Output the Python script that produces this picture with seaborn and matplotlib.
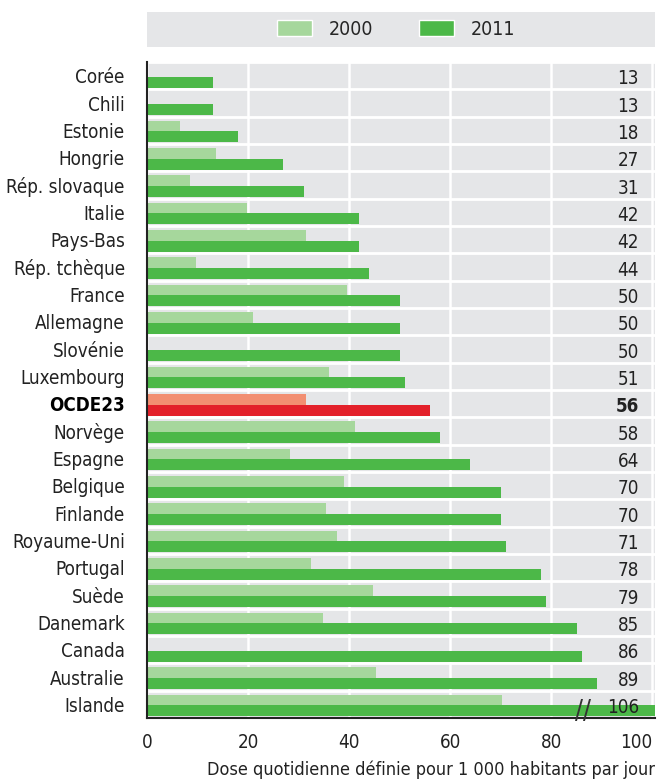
import pandas as pd
import numpy as np
import matplotlib.pyplot as plt
import seaborn as sns
from matplotlib.patches import Patch, Rectangle

countries = ['Corée', 'Chili', 'Estonie', 'Hongrie', 'Rép. slovaque', 'Italie',
             'Pays-Bas', 'Rép. tchèque', 'France', 'Allemagne', 'Slovénie',
             'Luxembourg', 'OCDE23', 'Norvège', 'Espagne', 'Belgique', 'Finlande',
             'Royaume-Uni', 'Portugal', 'Suède', 'Danemark', 'Canada', 'Australie',
             'Islande']
val_2000 = [np.nan, np.nan, 6.5, 13.6, 8.5, 19.7, 31.5, 9.7, 39.6, 20.9, np.nan,
            36.1, 31.4, 41.2, 28.2, 38.9, 35.5, 37.5, 32.5, 44.8, 34.9, np.nan,
            45.4, 70.2]
val_2011 = [13, 13, 18, 27, 31, 42, 42, 44, 50, 50, 50, 51, 56, 58, 64, 70, 70,
            71, 78, 79, 85, 86, 89, 106]
years = ['2000', '2011']

c2000 = '#a6d79c'
c2011 = '#4cb848'
oecd_2000 = '#f28f72'
oecd_2011 = '#e3202a'
bg = '#e5e6e8'

sns.set_theme(style='white')
plt.rcParams['font.family'] = ['DejaVu Sans']
plt.rcParams['font.stretch'] = 'condensed'

df = pd.DataFrame({'pays': countries * 2,
                   'annee': ['2000'] * len(countries) + ['2011'] * len(countries),
                   'valeur': val_2000 + val_2011}).dropna()

fig = plt.figure(figsize=(6.58, 7.83), dpi=100)
ax = fig.add_axes([0.2234, 0.083, 0.772, 0.8378])
ax.set_facecolor(bg)

sns.barplot(data=df, x='valeur', y='pays', hue='annee', order=countries,
            hue_order=years, palette=[c2000, c2011], saturation=1, orient='h',
            width=0.8, dodge=True, errorbar=None, legend=False, ax=ax, zorder=3,
            linewidth=0)

oecd = countries.index('OCDE23')
for p in ax.patches:
    p.set_y(p.get_y() + 0.04)
    yc = p.get_y() + p.get_height() / 2
    if abs(yc - oecd) < 0.5:
        p.set_facecolor(oecd_2000 if yc < oecd else oecd_2011)

ax.set_xlim(0, 100.5)
ax.set_ylim(len(countries) - 0.5, -0.5)

fs = 13.5
# grid
ax.set_xticks([0, 20, 40, 60, 80, 100])
ax.set_yticks(np.arange(len(countries) + 1) - 0.5, minor=True)
ax.grid(which='major', axis='x', color='white', lw=1.8, zorder=1)
ax.grid(which='minor', axis='y', color='white', lw=2, zorder=1)
ax.tick_params(axis='y', which='major', length=0, labelsize=fs, pad=16, colors='#222222')
ax.tick_params(axis='y', which='minor', length=6, width=1.5, direction='in', color='#222222')
ax.tick_params(axis='x', which='major', length=6, width=1.5, direction='in',
               labelsize=fs, pad=11, colors='#222222')
for lab in ax.get_yticklabels():
    if lab.get_text() == 'OCDE23':
        lab.set_fontweight('bold')
        lab.set_color('black')
xlabs = ax.get_xticklabels()
xlabs[-1].set_horizontalalignment('right')

for s in ['top', 'right']:
    ax.spines[s].set_visible(False)
for s in ['left', 'bottom']:
    ax.spines[s].set_color('#222222')
    ax.spines[s].set_linewidth(1.5)
    ax.spines[s].set_zorder(5)

# value labels
for i, v in enumerate(val_2011):
    ax.text(97.3, i + 0.12, f'{v:.0f}', ha='right', va='center', fontsize=fs,
            color='#222222', zorder=6,
            fontweight='bold' if countries[i] == 'OCDE23' else 'normal')

# break mark on Islande
ax.text(86.3, len(countries) - 1 + 0.28, '//', ha='center', va='center', fontsize=19,
        color='#333333', zorder=6, clip_on=False)

ax.set_ylabel('')
ax.set_xlabel('Dose quotidienne définie pour 1 000 habitants par jour',
              fontsize=13, color='#222222', loc='right', labelpad=6)

# legend band
fig.patches.append(Rectangle((0.2234, 0.940), 0.772, 0.045, transform=fig.transFigure,
                             facecolor=bg, edgecolor='none', zorder=0))
handles = [Patch(facecolor=c2000, label='2000'), Patch(facecolor=c2011, label='2011')]
fig.legend(handles=handles, loc='center', bbox_to_anchor=(0.602, 0.9625), ncol=2,
           frameon=False, fontsize=14, handlelength=1.8, handleheight=0.9,
           columnspacing=2.4, handletextpad=0.85)

fig.savefig('out.png', dpi=100)
